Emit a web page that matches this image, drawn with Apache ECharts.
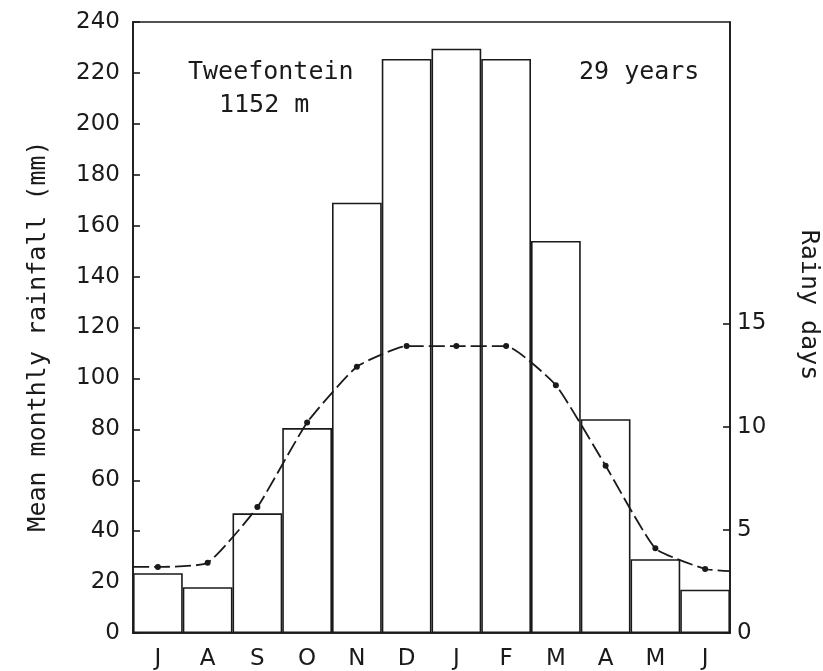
<!DOCTYPE html>
<html>
<head>
<meta charset="utf-8">
<script src="https://cdn.jsdelivr.net/npm/echarts@6/dist/echarts.min.js"></script>
<style>html,body{margin:0;padding:0;background:#fff}#c{width:823px;height:671px}</style>
</head>
<body>
<div id="c"></div>
<script>
// Months (July to June)
const months = ['J','A','S','O','N','D','J','F','M','A','M','J'];
// Mean monthly rainfall (mm)
const rainfall = [23.5, 18, 47, 80.5, 169, 225.5, 229.5, 225.5, 154, 84, 29, 17];
// Mean rainy days per month (plotted at month centres)
const rainyDays = [3.2, 3.4, 6.1, 10.2, 12.9, 13.9, 13.9, 13.9, 12.0, 8.1, 4.1, 3.1];
// Curve values read at the left and right edges of the plot
const rainyDaysEdges = [3.2, 3.0];
// Axis tick values
const rainTicks = [0,20,40,60,80,100,120,140,160,180,200,220,240];
const dayTicks = [0,5,10,15];

const ink = '#1a1a1a';
const lineData = [{value:[0, rainyDaysEdges[0]], symbol:'none'}]
  .concat(rainyDays.map((v,i)=>({value:[i+0.5, v]})))
  .concat([{value:[months.length, rainyDaysEdges[1]], symbol:'none'}]);

const chart = echarts.init(document.getElementById('c'), null, {renderer:'canvas'});
chart.setOption({
  animation:false,
  backgroundColor:'#fff',
  grid:{left:133, right:93, top:22, bottom:38, show:true, borderColor:ink, borderWidth:1.6, outerBoundsMode:'none'},
  xAxis:[
    {type:'category', data:months, boundaryGap:true,
     axisLine:{lineStyle:{color:ink, width:1.6}}, axisTick:{show:false},
     axisLabel:{color:ink, fontFamily:'DejaVu Sans', fontSize:23, margin:15, interval:0},
     splitLine:{show:false}},
    {type:'value', min:0, max:months.length, show:false}
  ],
  yAxis:[
    {type:'value', min:0, max:240, interval:20, position:'left',
     axisLine:{show:true, lineStyle:{color:ink, width:1.6}},
     axisTick:{show:true, inside:true, length:7, lineStyle:{color:ink, width:1.6}},
     axisLabel:{color:ink, fontFamily:'DejaVu Sans', fontSize:23, margin:13, customValues:rainTicks},
     splitLine:{show:false}},
    {type:'value', min:0, max:29.6, position:'right',
     axisLine:{show:true, lineStyle:{color:ink, width:1.6}},
     axisTick:{show:true, inside:true, length:7, lineStyle:{color:ink, width:1.6}, customValues:dayTicks},
     axisLabel:{color:ink, fontFamily:'DejaVu Sans', fontSize:23, margin:7, customValues:dayTicks},
     splitLine:{show:false}}
  ],
  series:[
    {type:'bar', xAxisIndex:0, yAxisIndex:0, data:rainfall, barCategoryGap:'0%',
     itemStyle:{color:'#fff', borderColor:ink, borderWidth:1.6}, z:2},
    {type:'line', xAxisIndex:1, yAxisIndex:1, data:lineData, smooth:0.15,
     symbol:'circle', symbolSize:6, itemStyle:{color:ink},
     lineStyle:{color:ink, width:1.8, type:[16,5]}, z:3}
  ],
  graphic:[
    {type:'text', left:188, top:60, style:{text:'Tweefontein', fill:ink, font:'25px "DejaVu Sans Mono"'}},
    {type:'text', left:219, top:93, style:{text:'1152 m', fill:ink, font:'25px "DejaVu Sans Mono"'}},
    {type:'text', left:579, top:60, style:{text:'29 years', fill:ink, font:'25px "DejaVu Sans Mono"'}},
    {type:'text', x:38, y:336, rotation:Math.PI/2,
     style:{text:'Mean monthly rainfall (mm)', fill:ink, font:'25px "DejaVu Sans Mono"', align:'center', verticalAlign:'middle'}},
    {type:'text', x:808, y:305, rotation:-Math.PI/2,
     style:{text:'Rainy days', fill:ink, font:'25px "DejaVu Sans Mono"', align:'center', verticalAlign:'middle'}}
  ]
});
</script>
</body>
</html>
